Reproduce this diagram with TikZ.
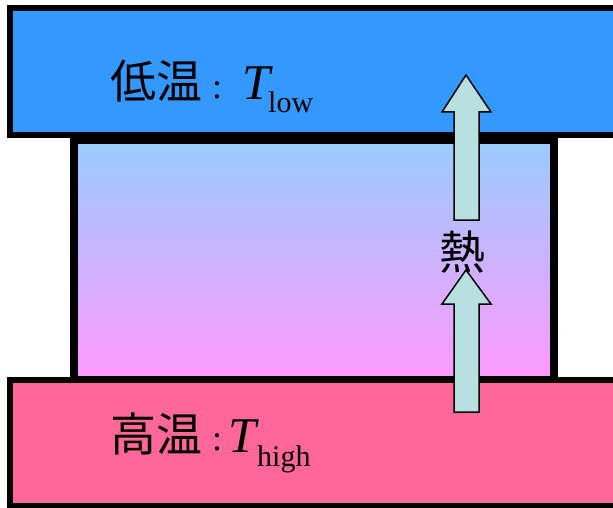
\documentclass[tikz,border=0pt]{standalone}
\usepackage{fontspec}
\setmainfont{Liberation Serif}
\newfontfamily\cjk{Noto Sans CJK JP}
\definecolor{coldblue}{HTML}{3399FF}
\definecolor{hotpink}{HTML}{FF6699}
\definecolor{midtop}{HTML}{99CCFF}
\definecolor{midbot}{HTML}{FF99FF}
\definecolor{arrowfill}{HTML}{B9E0E0}
\tikzset{
  reservoir/.style={draw=black, line width=6pt},
  heatarrow/.style={draw=black, line width=1.5pt, fill=arrowfill, line join=miter},
  cjklabel/.style={inner sep=0pt, font=\cjk\fontsize{46}{46}\selectfont},
  serlabel/.style={inner sep=0pt, font=\fontsize{50}{50}\selectfont},
  colonlabel/.style={inner sep=0pt, anchor=base, font=\fontsize{36}{36}\selectfont},
  sublabel/.style={inner sep=0pt, font=\fontsize{30}{30}\selectfont}
}
\begin{document}
\begin{tikzpicture}[x=1pt,y=-1pt]
\useasboundingbox (0,0) rectangle (613,508);
\clip (0,0) rectangle (613,508);
\fill[white] (0,0) rectangle (613,508);
% top (cold) reservoir
\draw[reservoir, fill=coldblue] (10,8) rectangle (640,135.5);
% working body
\shade[top color=midtop, bottom color=midbot] (74,140) rectangle (554,379.5);
\draw[line width=8pt] (74,140) rectangle (554,379.5);
% bottom (hot) reservoir
\draw[reservoir, fill=hotpink] (10,380) rectangle (640,506);
% heat arrows
\draw[heatarrow] (466,75) -- (491,112) -- (479,112) -- (479,220) -- (454,220) -- (454,112) -- (442,112) -- cycle;
\draw[heatarrow] (466,270) -- (491,304) -- (479,304) -- (479,412) -- (454,412) -- (454,304) -- (442,304) -- cycle;
\node[cjklabel] (heat) at (462,252) {熱};
% labels
\node[cjklabel, anchor=base west] (lowcjk) at (110,98.5) {低温};
\node[colonlabel] (lowcolon) at (217,99) {:};
\node[serlabel, anchor=base west] (lowT) at (242,100) {\textit{T}};
\node[sublabel, anchor=base west] (lowsub) at (268,113) {low};
\node[cjklabel, anchor=base west] (highcjk) at (110,451) {高温};
\node[colonlabel] (highcolon) at (217,450) {:};
\node[serlabel, anchor=base west] (highT) at (228,452) {\textit{T}};
\node[sublabel, anchor=base west] (highsub) at (257,466) {high};
\end{tikzpicture}
\end{document}
